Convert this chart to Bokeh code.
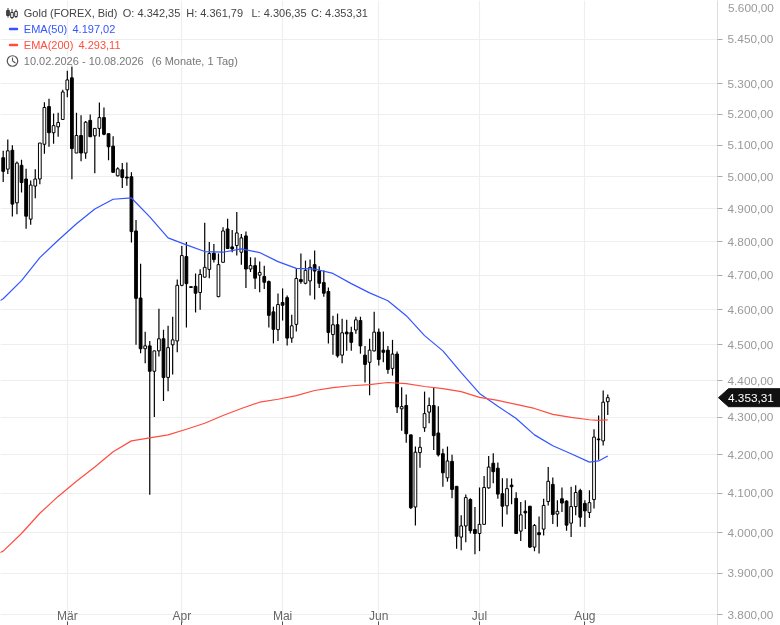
import math
from bokeh.plotting import figure
from bokeh.embed import file_html
from bokeh.resources import INLINE
from bokeh.models import Range1d, FixedTicker, Label
from bokeh.core.properties import value

opens = [5060,5024,5084,4919,5036,4993,4869,4971,4993,5103,5225,5140,5159,5183,5280,5320,5075,5131,5075,5180,5130,5154,5189,5137,5097,5003,5022,4999,5000,4833,
 4634,4489,4497,4426,4483,4517,4409,4500,4511,4671,4756,4667,4668,4650,4695,4718,4766,4638,4739,4839,4785,4789,4769,4818,4719,4729,4701,4697,4682,4594,
 4543,4621,4635,4519,4558,4688,4677,4684,4732,4713,4679,4653,4529,4557,4471,4536,4535,4542,4569,4471,4451,4483,4536,4485,4485,4434,4474,4323,4332,4253,
 4065,4206,4272,4314,4332,4258,4203,4140,4183,4118,3989,4017,4084,4008,3998,4021,4114,4178,4165,4099,4068,4121,4087,4004,4054,4067,3964,4000,4009,4079,
 4123,4047,4086,4080,4024,4066,4107,4074,4051,4084,4242,4237,4342.35]
closes = [5017,5082,4915,5043,4982,4878,4974,4993,5107,5222,5140,5163,5173,5273,5313,5089,5131,5075,5174,5127,5154,5189,5135,5095,5014,5025,4998,4996,4831,4633,
 4489,4497,4426,4483,4517,4409,4492,4514,4671,4759,4676,4665,4648,4703,4724,4765,4747,4732,4833,4780,4779,4827,4812,4719,4729,4692,4709,4680,4584,4544,
 4615,4613,4519,4554,4691,4682,4715,4724,4713,4677,4648,4535,4557,4469,4534,4531,4507,4571,4497,4445,4485,4536,4459,4479,4431,4474,4328,4329,4256,4063,
 4207,4220,4310,4332,4251,4200,4153,4184,4110,3991,4017,4089,4005,3998,4021,4115,4168,4156,4098,4067,4112,4117,3998,4045,4050,3964,4018,3995,4069,4131,
 4046,4054,4075,4019,4066,4102,4039,4055,4076,4247,4240,4341,4353.31]
highs = [5082,5118,5100,5048,5054,5025,4988,5024,5107,5239,5251,5202,5205,5280,5344,5361,5205,5197,5178,5199,5154,5238,5222,5137,5129,5030,5043,5045,5014,4866,
 4735,4537,4511,4483,4603,4543,4554,4580,4688,4788,4800,4667,4706,4718,4858,4800,4794,4765,4844,4870,4836,4891,4824,4831,4754,4753,4741,4729,4685,4609,
 4647,4662,4641,4586,4721,4765,4744,4747,4774,4727,4715,4665,4583,4589,4574,4571,4551,4580,4580,4497,4517,4594,4546,4538,4497,4514,4481,4382,4362,4253,
 4222,4247,4370,4354,4382,4330,4216,4222,4200,4118,4044,4097,4087,4065,4115,4145,4197,4204,4180,4139,4139,4138,4103,4078,4082,4067,4022,4041,4086,4168,
 4141,4082,4115,4082,4117,4121,4112,4082,4108,4268,4305,4373,4361.79]
lows = [4984,5009,4877,4884,4951,4840,4852,4933,4977,5073,5095,5105,5127,5181,5256,4992,5075,5049,5057,5127,5011,5127,5132,5052,5012,5001,4965,4972,4798,4500,
 4476,4448,4096,4301,4467,4344,4371,4417,4479,4668,4549,4664,4592,4600,4694,4692,4738,4636,4739,4779,4769,4759,4732,4663,4710,4660,4651,4660,4549,4504,
 4511,4569,4498,4506,4538,4676,4674,4641,4630,4663,4638,4504,4472,4464,4448,4483,4483,4531,4475,4395,4360,4481,4442,4451,4419,4414,4312,4264,4232,4060,
 4018,4166,4261,4284,4213,4196,4117,4130,4087,3960,3956,3976,3998,3946,3954,4020,4112,4126,4086,4015,4046,4072,3997,3979,4009,3962,3954,3948,3993,4069,
 4022,4015,4052,4005,3989,4044,4015,4014,4037,4061,4187,4225,4306.35]

ema_idx = [-1,0,4,8,12,16,20,24,28,32,36,40,44,48,52,56,60,64,68,72,76,80,84,88,92,96,100,104,108,112,116,120,124,128,130,132]
ema50 = [4624,4632,4685,4753,4805,4855,4900,4930,4934,4876,4812,4791,4771,4769,4779,4768,4741,4721,4719,4706,4676,4649,4626,4583,4526,4483,4422,4365,4330,4297,4253,4224,4203,4181,4184,4197.02]
ema200 = [3949,3954,3998,4049,4092,4131,4168,4208,4237,4245,4253,4268,4284,4305,4324,4341,4349,4359,4373,4381,4386,4389,4395,4392,4384,4378,4370,4354,4346,4335,4324,4308,4300,4293.5,4292,4293.11]

y_ticks = [5450,5300,5200,5100,5000,4900,4800,4700,4600,4500,4400,4300,4200,4100,4000,3900,3800]
y_labels = ["5.450,00","5.300,00","5.200,00","5.100,00","5.000,00","4.900,00","4.800,00","4.700,00","4.600,00","4.500,00","4.400,00","4.300,00","4.200,00","4.100,00","4.000,00","3.900,00","3.800,00"]
month_idx = [14,39,61,82,104,127]
month_labels = ["Mär","Apr","Mai","Jun","Jul","Aug"]

W, H, FW = 780, 625, 717
X0, DX = 2.7, 4.58
Y_SCALE, Y_REF, P_REF = 1595.0, 614.0, 3800.0
FONT = "Liberation Sans"

def px_x(px):
    return (px - X0) / DX
def px_y(py):
    return P_REF * math.exp((Y_REF - py) / Y_SCALE)

p = figure(width=W, height=H, output_backend="svg", toolbar_location=None,
           y_axis_type="log", y_axis_location="right",
           x_range=Range1d(px_x(0), px_x(FW)), y_range=Range1d(px_y(H), px_y(0)),
           min_border_left=0, min_border_top=0, min_border_bottom=0, min_border_right=W-FW)
p.styles = {"position": "fixed", "left": "0px", "top": "0px"}
p.outline_line_color = None
p.background_fill_color = "white"

p.xgrid.grid_line_color = "#eeeeee"
p.ygrid.grid_line_color = "#eeeeee"
p.xgrid.grid_line_width = 1.2
p.ygrid.grid_line_width = 1.2
p.xgrid.ticker = FixedTicker(ticks=month_idx)
p.ygrid.ticker = FixedTicker(ticks=y_ticks)

ya = p.yaxis[0]
ya.ticker = FixedTicker(ticks=y_ticks)
ya.major_label_overrides = {t: l for t, l in zip(y_ticks, y_labels)}
ya.minor_tick_line_color = None
ya.axis_line_color = "#dddddd"
ya.major_tick_line_color = "#aaaaaa"
ya.major_tick_out = 5
ya.major_tick_in = 0
ya.major_label_standoff = 5
ya.major_label_text_font = FONT
ya.major_label_text_font_size = "11.8px"
ya.major_label_text_color = "#999999"

xa = p.xaxis[0]
xa.ticker = FixedTicker(ticks=month_idx)
xa.major_label_overrides = dict(zip(month_idx, month_labels))
xa.minor_tick_line_color = None
xa.axis_line_color = None
xa.major_tick_line_color = "#555555"
xa.major_tick_in = 4
xa.major_tick_out = 0
xa.major_label_standoff = -17
xa.major_label_text_font = FONT
xa.major_label_text_font_size = "12px"
xa.major_label_text_color = "#666666"

idx = list(range(len(closes)))
p.segment(idx, highs, idx, lows, line_color="black", line_width=1.2)
up = [i for i in idx if closes[i] >= opens[i]]
dn = [i for i in idx if closes[i] < opens[i]]
p.vbar(up, width=0.6, top=[closes[i] for i in up], bottom=[opens[i] for i in up],
       fill_color="white", line_color="black", line_width=1)
p.vbar(dn, width=0.6, top=[opens[i] for i in dn], bottom=[closes[i] for i in dn],
       fill_color="black", line_color="black", line_width=1)
p.line(ema_idx, ema50, line_color="#3355ff", line_width=1.2, line_join="round")
p.line(ema_idx, ema200, line_color="#ff4d40", line_width=1.2, line_join="round")

def lab(px, py, text, color):
    p.add_layout(Label(x=px_x(px), y=px_y(py), text=text, text_color=color, text_font=FONT,
                       text_font_size="11px", text_align="left", text_baseline="middle",
                       background_fill_color="white", background_fill_alpha=0.6))

DARK, GRAY = "#444444", "#777777"
lab(23.3, 12, "Gold (FOREX, Bid)", DARK)
lab(122.3, 12, "O: 4.342,35", DARK)
lab(185.7, 12, "H: 4.361,79", DARK)
lab(251, 12, "L: 4.306,35", DARK)
lab(310.5, 12, "C: 4.353,31", DARK)
lab(23.3, 28.5, "EMA(50)", "#3355ff")
lab(72, 28.5, "4.197,02", "#3355ff")
lab(23.3, 44.5, "EMA(200)", "#ff4d40")
lab(78, 44.5, "4.293,11", "#ff4d40")
lab(23.3, 60.5, "10.02.2026 - 10.08.2026", GRAY)
lab(151.3, 60.5, "(6 Monate, 1 Tag)", GRAY)

# legend icons
p.segment([px_x(9.5)], [px_y(28.5)], [px_x(16.5)], [px_y(28.5)], line_color="#3355ff", line_width=2.5, line_cap="round", level="overlay")
p.segment([px_x(9.5)], [px_y(44.5)], [px_x(16.5)], [px_y(44.5)], line_color="#ff4d40", line_width=2.5, line_cap="round", level="overlay")
for cx, t, b, w_t, w_b, fill in [(7.5, 10, 15, 7.5, 17, "#444444"), (11.5, 12, 17, 8.5, 18.5, "white"), (15.5, 11, 16, 9, 17.5, "white")]:
    p.segment([px_x(cx)], [px_y(w_t)], [px_x(cx)], [px_y(w_b)], line_color="#333333", line_width=1, level="overlay")
    p.quad(left=[px_x(cx-1.3)], right=[px_x(cx+1.3)], top=[px_y(t)], bottom=[px_y(b)], fill_color=fill, line_color="#333333", line_width=1, level="overlay")
p.scatter([px_x(12)], [px_y(60.5)], marker="circle", size=10.5, fill_color=None, line_color="#555555", line_width=1.2, level="overlay")
p.segment([px_x(12), px_x(12)], [px_y(57), px_y(60.5)], [px_x(12), px_x(15)], [px_y(60.5), px_y(62.5)], line_color="#555555", line_width=1.1, level="overlay")

# transparent overlay on the axis strip: last-price flag and the top tick label
q = figure(width=W-FW, height=H, output_backend="svg", toolbar_location=None,
           y_axis_type="log", x_axis_location=None, y_axis_location=None,
           x_range=Range1d(FW, W), y_range=Range1d(px_y(H), px_y(0)),
           min_border=0, min_border_left=0, min_border_right=0, min_border_top=0, min_border_bottom=0,
           background_fill_color=None, border_fill_color=None, outline_line_color=None)
q.styles = {"position": "fixed", "left": f"{FW}px", "top": "0px"}
q.grid.visible = False

last = closes[-1]
yc = Y_REF - Y_SCALE * math.log(last / P_REF)
q.patch([718, 728, 780, 780, 728],
        [px_y(yc), px_y(yc - 9), px_y(yc - 9), px_y(yc + 9), px_y(yc + 9)],
        fill_color="#111111", line_color="#111111")
q.text([727.5], [last], text=["4.353,31"], text_color="white", text_font=value(FONT),
       text_font_size="11.8px", text_baseline="middle")
q.text([727.5], [px_y(7)], text=["5.600,00"], text_color="#999999", text_font=value(FONT),
       text_font_size="11.8px", text_baseline="middle")

open("out.html", "w").write(file_html([p, q], INLINE))
